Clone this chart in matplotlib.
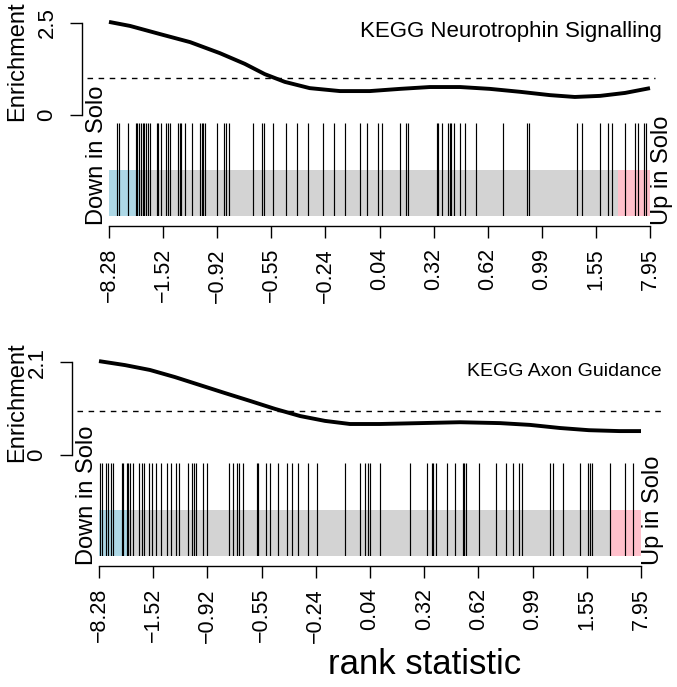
import matplotlib
matplotlib.use("Agg")
import matplotlib.pyplot as plt

plt.rcParams['font.family'] = ['Liberation Sans', 'DejaVu Sans']

# tick labels (rank statistic at every 10% of the ranking)
tick_labels = ["-8.28", "-1.52", "-0.92", "-0.55", "-0.24", "0.04",
               "0.32", "0.62", "0.99", "1.55", "7.95"]
tick_pct = [0, 10, 20, 30, 40, 50, 60, 70, 80, 90, 100]

# panel 1: KEGG Neurotrophin Signalling
title1 = "KEGG Neurotrophin Signalling"
genes1 = [1.5, 1.9, 3.6, 5.0, 5.2, 5.6, 5.9, 6.2, 6.5, 6.8, 7.2, 7.5, 8.8, 9.1,
          9.6, 10.5, 10.9, 11.3, 12.8, 13.1, 13.4, 14.0, 15.3, 16.8, 17.1,
          17.4, 17.7, 20.0, 21.3, 21.6, 22.1, 26.7, 28.3, 28.7, 30.4, 32.8,
          34.7, 36.8, 39.6, 41.5, 43.6, 46.4, 47.6, 49.8, 50.4, 53.8, 54.9,
          55.3, 60.6, 60.9, 61.5, 62.7, 63.0, 63.3, 63.8, 64.9, 65.8, 67.8,
          72.9, 77.2, 77.7, 86.5, 87.4, 90.8, 92.3, 92.9, 95.4, 97.2, 97.8,
          98.8, 99.3]
worm_x1 = [0, 3.9, 9.4, 15.0, 20.5, 25.1, 28.8, 32.5, 37.1, 42.7, 48.2, 53.8,
           59.3, 64.9, 70.4, 76.0, 81.5, 86.1, 90.8, 95.4, 100]
worm_y1 = [2.53, 2.42, 2.20, 1.98, 1.68, 1.39, 1.11, 0.90, 0.73, 0.65, 0.65,
           0.71, 0.76, 0.76, 0.71, 0.63, 0.54, 0.49, 0.52, 0.60, 0.73]
ymax1 = 2.5
down_cut1 = 5.5
up_cut1 = 94.1

# panel 2: KEGG Axon Guidance
title2 = "KEGG Axon Guidance"
genes2 = [0.2, 0.5, 1.3, 1.7, 2.2, 2.5, 4.2, 4.5, 5.1, 5.4, 5.7, 6.2, 7.3, 7.9,
          8.3, 9.3, 9.7, 10.5, 11.4, 12.5, 13.3, 14.2, 14.8, 16.5, 17.1, 17.5,
          17.9, 19.2, 19.9, 24.0, 24.7, 25.4, 25.9, 26.6, 29.1, 29.4, 30.9,
          31.5, 33.1, 34.6, 35.6, 36.8, 38.6, 40.2, 45.4, 48.2, 49.1, 49.7,
          50.0, 51.8, 57.4, 60.5, 61.4, 61.7, 62.2, 64.2, 65.7, 67.1, 67.3,
          67.7, 70.2, 73.2, 75.0, 76.4, 77.4, 78.0, 83.2, 83.7, 85.7, 88.7,
          90.3, 90.6, 91.0, 94.3, 97.0, 98.6]
worm_x2 = [0, 4.8, 9.4, 14.0, 18.6, 23.2, 27.9, 32.5, 37.1, 41.7, 46.3, 51.8,
           59.2, 66.6, 74.0, 79.5, 85.0, 90.4, 96.0, 100]
worm_y2 = [2.12, 2.03, 1.92, 1.76, 1.58, 1.40, 1.22, 1.04, 0.88, 0.77, 0.70,
           0.70, 0.72, 0.74, 0.72, 0.68, 0.61, 0.56, 0.54, 0.54]
ymax2 = 2.1
down_cut2 = 5.2
up_cut2 = 94.3

W, H = 677, 687
fig = plt.figure(figsize=(W / 100, H / 100), dpi=100)


def add_ax(left, top, right, bottom):
    # pixel box (from top-left) -> figure axes
    return fig.add_axes([left / W, 1 - bottom / H, (right - left) / W, (bottom - top) / H])


def fmt(s):
    return s.replace("-", "\u2212")


def panel(title, genes, wx, wy, ymax, down_cut, up_cut,
          x0, x1, etop, ebot, btop, bbot, dash_r, title_y, title_size, ylab_y):
    # enrichment worm
    ax = add_ax(x0, etop, x1, ebot)
    ax.set_xlim(0, 100)
    ax.set_ylim(0, ymax)
    ax.plot(wx, wy, color='black', lw=2.8, clip_on=False,
            solid_capstyle='butt', solid_joinstyle='round')
    ax.plot([-4.1, dash_r], [1, 1], color='black', lw=1.0, ls=(0, (4, 4)), clip_on=False)
    for s in ['top', 'right', 'bottom']:
        ax.spines[s].set_visible(False)
    ax.spines['left'].set_position(('outward', 19.4))
    ax.spines['left'].set_linewidth(1.0)
    ax.set_xticks([])
    ax.set_yticks([0, ymax])
    ax.set_yticklabels(["0", str(ymax)], rotation=90, va='center', fontsize=16)
    ax.tick_params(axis='y', length=8.6, width=1.0, pad=9)
    ax.patch.set_visible(False)
    fig.text(17 / W, 1 - ylab_y / H, "Enrichment", rotation=90,
             ha='center', va='center', fontsize=17)
    fig.text(662 / W, 1 - title_y / H, title, ha='right', va='center', fontsize=title_size)

    # barcode
    bx = add_ax(x0, btop, x1, bbot)
    bx.set_xlim(0, 100)
    bx.set_ylim(0, 1)
    bx.axvspan(0, 100, ymin=0, ymax=0.5, color='lightgray', lw=0)
    bx.axvspan(0, down_cut, ymin=0, ymax=0.5, color='lightblue', lw=0)
    bx.axvspan(up_cut, 100, ymin=0, ymax=0.5, color='pink', lw=0)
    bx.vlines(genes, 0, 1, color='black', lw=0.85)
    for s in ['top', 'right', 'left']:
        bx.spines[s].set_visible(False)
    bx.spines['bottom'].set_position(('outward', 7.5))
    bx.spines['bottom'].set_bounds(0, 100)
    bx.spines['bottom'].set_linewidth(1.0)
    bx.set_yticks([])
    bx.set_xticks(tick_pct)
    bx.set_xticklabels([fmt(t) for t in tick_labels], rotation=90, fontsize=15.5)
    bx.tick_params(axis='x', length=8.6, width=1.0, pad=7)
    bx.text(-2.2, -0.1, "Down in Solo", rotation=90, ha='center', va='bottom',
            fontsize=17, transform=bx.transData, clip_on=False)
    bx.text(102.2, -0.1, "Up in Solo", rotation=90, ha='center', va='bottom',
            fontsize=17, transform=bx.transData, clip_on=False)


panel(title1, genes1, worm_x1, worm_y1, ymax1, down_cut1, up_cut1,
      109, 650, 23, 115, 123, 216, 100.9, 31, 16, 61)
panel(title2, genes2, worm_x2, worm_y2, ymax2, down_cut2, up_cut2,
      99, 641, 362, 455, 463, 556, 104.2, 372, 14, 402)

fig.text(425 / W, 1 - 665 / H, "rank statistic", ha='center', va='center', fontsize=25)

fig.savefig("out.png", dpi=100)
